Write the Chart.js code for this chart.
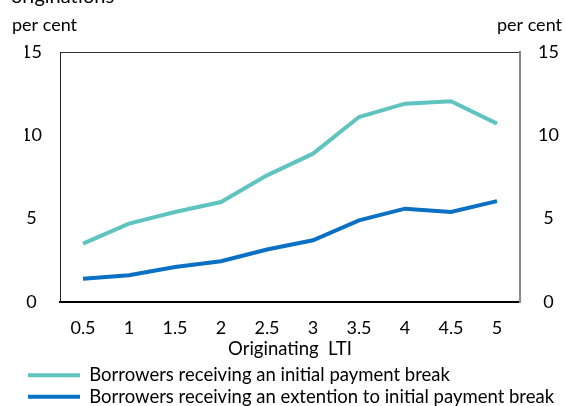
<!DOCTYPE html>
<html>
<head>
<meta charset="utf-8">
<script src="https://cdn.jsdelivr.net/npm/chart.js@4.4.0/dist/chart.umd.min.js"></script>
<style>
  html, body { margin: 0; padding: 0; background: #fff; }
  #wrap { width: 565px; height: 406px; }
</style>
</head>
<body>
<div id="wrap"><canvas id="myChart" width="565" height="406"></canvas></div>
<script>
var labels = ['0.5', '1', '1.5', '2', '2.5', '3', '3.5', '4', '4.5', '5'];
var initialBreak = [3.5, 4.7, 5.4, 6.0, 7.6, 8.9, 11.1, 11.9, 12.05, 10.7];
var extensionBreak = [1.4, 1.6, 2.1, 2.45, 3.15, 3.7, 4.9, 5.6, 5.4, 6.05];
var yTicks = [0, 5, 10, 15];

var FONT = 'Lato, "Open Sans", sans-serif';
Chart.defaults.font.family = FONT;
Chart.defaults.font.size = 18;
Chart.defaults.color = '#000';

// Napisy nad wykresem (tytuł ucięty u góry, jednostki po obu stronach)
var headerText = {
    id: 'headerText',
    afterDraw: function (chart) {
        var c = chart.ctx;
        c.save();
        c.fillStyle = '#000';
        c.font = '20px ' + FONT;
        c.textBaseline = 'alphabetic';
        c.textAlign = 'left';
        c.fillText('originations', 11, 3);
        c.font = '18px ' + FONT;
        c.textBaseline = 'middle';
        c.fillText('per cent', 12, 25);
        c.textAlign = 'right';
        c.fillText('per cent', 562, 25);
        c.restore();
    }
};

var ctx = document.getElementById('myChart').getContext('2d');
var myChart = new Chart(ctx, {
    type: 'line',
    data: {
        labels: labels,
        datasets: [{
            label: 'Borrowers receiving an initial payment break',
            data: initialBreak,
            borderColor: '#5fc4c0',
            backgroundColor: '#5fc4c0',
            borderWidth: 4,
            pointRadius: 0,
            tension: 0,
            yAxisID: 'y'
        }, {
            label: 'Borrowers receiving an extention to initial payment break',
            data: extensionBreak,
            borderColor: '#0a70c4',
            backgroundColor: '#0a70c4',
            borderWidth: 4,
            pointRadius: 0,
            tension: 0,
            yAxisID: 'y'
        }]
    },
    options: {
        responsive: false,
        animation: false,
        layout: { padding: { left: 25, right: 0, top: 52, bottom: 0 } },
        plugins: {
            tooltip: { enabled: false },
            legend: {
                position: 'bottom',
                align: 'start',
                maxHeight: 43,
                labels: {
                    boxWidth: 52,
                    boxHeight: 4,
                    padding: 3,
                    font: { size: 18.5 },
                    color: '#000',
                    generateLabels: function (chart) {
                        var items = Chart.defaults.plugins.legend.labels.generateLabels(chart);
                        items.forEach(function (it) { it.lineWidth = 0; });
                        return items;
                    }
                }
            }
        },
        scales: {
            x: {
                offset: true,
                grid: { display: false, drawTicks: false },
                border: { display: true, color: '#000', width: 2 },
                ticks: { padding: 15, maxRotation: 0, autoSkip: false },
                title: { display: true, text: 'Originating  LTI', font: { size: 18.5 }, padding: { top: 0, bottom: 3 } },
                afterFit: function (s) { s.height = 61; }
            },
            xTop: {
                position: 'top',
                type: 'category',
                labels: labels,
                offset: true,
                grid: { display: false, drawTicks: false },
                border: { display: true, color: '#333', width: 1 },
                ticks: { display: false },
                afterFit: function (s) { s.height = 0; }
            },
            y: {
                position: 'left',
                min: 0, max: 15,
                afterBuildTicks: function (s) { s.ticks = yTicks.map(function (v) { return { value: v }; }); },
                grid: { display: false, drawTicks: false },
                border: { display: true, color: '#222', width: 1 },
                ticks: { padding: 18, crossAlign: 'center' },
                afterFit: function (s) { s.width = 35; }
            },
            y2: {
                position: 'right',
                min: 0, max: 15,
                afterBuildTicks: function (s) { s.ticks = yTicks.map(function (v) { return { value: v }; }); },
                grid: { display: false, drawTicks: false },
                border: { display: true, color: '#888', width: 2 },
                ticks: { padding: 18, crossAlign: 'center' },
                afterFit: function (s) { s.width = 45; }
            }
        }
    },
    plugins: [headerText]
});
</script>
</body>
</html>
